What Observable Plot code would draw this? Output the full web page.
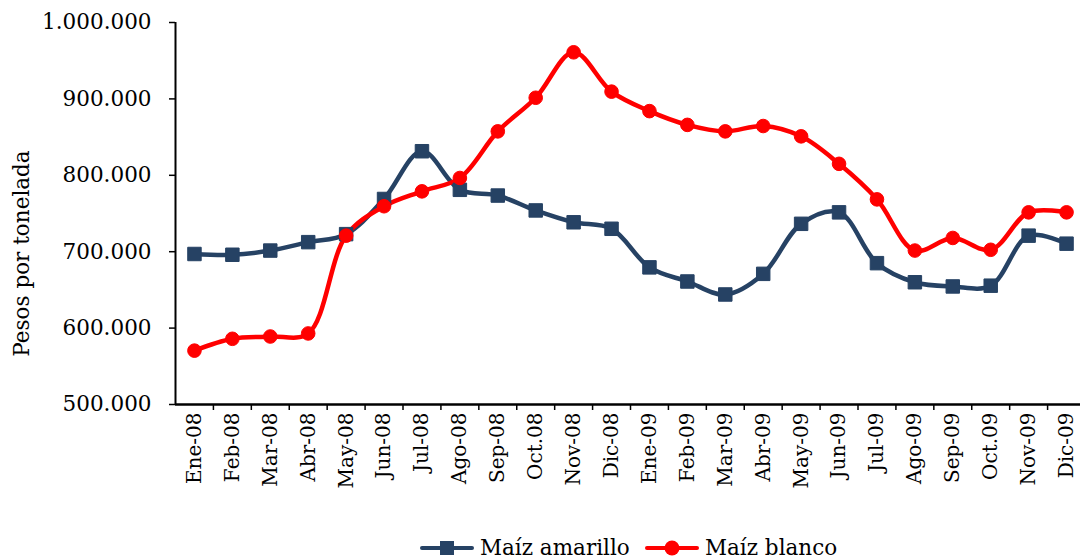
<!DOCTYPE html>
<html>
<head>
<meta charset="utf-8">
<script src="https://cdn.jsdelivr.net/npm/d3@7"></script>
<script src="https://cdn.jsdelivr.net/npm/@observablehq/plot@0.6"></script>
<style>
  html, body { margin: 0; padding: 0; background: #fff; overflow: hidden; }
  #chart { width: 1080px; height: 535px; overflow: hidden; }
  #legend { height: 26px; line-height: 26px; font-family: "DejaVu Serif", serif; font-size: 21.5px; color: #000; position: relative; }
  .item { position: absolute; top: 0; display: flex; align-items: center; height: 26px; }
  .item svg { margin-right: 6px; }
  .xlab text { font-size: 20px; }
</style>
</head>
<body>
<div id="chart"></div>
<div id="legend"></div>
<script>
const months = ["Ene-08","Feb-08","Mar-08","Abr-08","May-08","Jun-08","Jul-08","Ago-08","Sep-08","Oct.08","Nov-08","Dic-08",
                "Ene-09","Feb-09","Mar-09","Abr-09","May-09","Jun-09","Jul-09","Ago-09","Sep-09","Oct.09","Nov-09","Dic-09"];
const amarillo = [697000,696000,701500,712500,723000,769000,831500,781000,773500,754000,738500,730000,
                  679500,661000,644000,671000,736500,751500,685000,660000,654500,655500,721000,710500];
const blanco = [570500,586000,589000,593000,721000,759500,779000,796500,857500,901500,961000,909500,
                884000,866000,857500,864500,851000,815000,768500,701500,718000,702500,751500,751500];
const yTicks = [500000,600000,700000,800000,900000,1000000];
const series = [
  {name: "Maíz amarillo", values: amarillo, color: "#264264", symbol: "square"},
  {name: "Maíz blanco", values: blanco, color: "#ff0000", symbol: "circle"}
];

const data = series.flatMap(s => s.values.map((v, i) => ({i, month: months[i], value: v, serie: s.name})));
const fmt = d => d3.format(",")(d).replace(/,/g, ".");
const idx = months.map((m, i) => i);
const bounds = months.map((m, i) => i + 0.5).slice(0, -1);

const font = "DejaVu Serif, serif";
const chart = Plot.plot({
  width: 1080,
  height: 535,
  marginLeft: 175,
  marginRight: -5,
  marginTop: 22,
  marginBottom: 131,
  style: {fontFamily: font, fontSize: "19px", color: "#000", background: "#fff"},
  x: {domain: [-0.5, 23.5], axis: null},
  y: {domain: [500000, 1000000], axis: null},
  marks: [
    Plot.axisY({ticks: yTicks, tickFormat: fmt, tickSize: 6, tickPadding: 18, label: null, stroke: "#000", strokeWidth: 1.5, fontSize: 21.5}),
    Plot.axisX({ticks: bounds, tickFormat: () => "", tickSize: 6, label: null, stroke: "#000", strokeWidth: 1.5}),
    Plot.axisX({ticks: idx, tickFormat: i => months[i], tickSize: 0, tickPadding: 8, tickRotate: -90, label: null, fontSize: 20, className: "xlab"}),
    Plot.ruleX([-0.5], {stroke: "#000", strokeWidth: 2}),
    Plot.ruleY([500000], {stroke: "#000", strokeWidth: 2.5}),
    Plot.text(["Pesos por tonelada"], {frameAnchor: "left", textAnchor: "middle", dx: -153, dy: 40, rotate: -90, fontSize: 21.5, fill: "#000"}),
    ...series.map(s => Plot.line(data.filter(d => d.serie === s.name), {x: "i", y: "value", stroke: s.color, strokeWidth: 4.5, curve: "catmull-rom"})),
    ...series.map(s => Plot.dot(data.filter(d => d.serie === s.name), {x: "i", y: "value", fill: s.color, stroke: s.color, strokeWidth: 1, symbol: s.symbol, r: s.symbol === "square" ? 7.6 : 6.8}))
  ]
});
document.getElementById("chart").appendChild(chart);

const legend = document.getElementById("legend");
const lpos = [420, 645];
series.forEach((s, k) => {
  const item = document.createElement("div");
  item.className = "item";
  item.style.left = lpos[k] + "px";
  const marker = s.symbol === "square"
    ? `<rect x="20" y="6" width="14" height="14" fill="${s.color}"/>`
    : `<circle cx="27" cy="13" r="7.5" fill="${s.color}"/>`;
  item.innerHTML = `<svg width="54" height="26"><line x1="2" x2="52" y1="13" y2="13" stroke="${s.color}" stroke-width="4" stroke-linecap="round"/>${marker}</svg><span>${s.name}</span>`;
  legend.appendChild(item);
});
</script>
</body>
</html>
